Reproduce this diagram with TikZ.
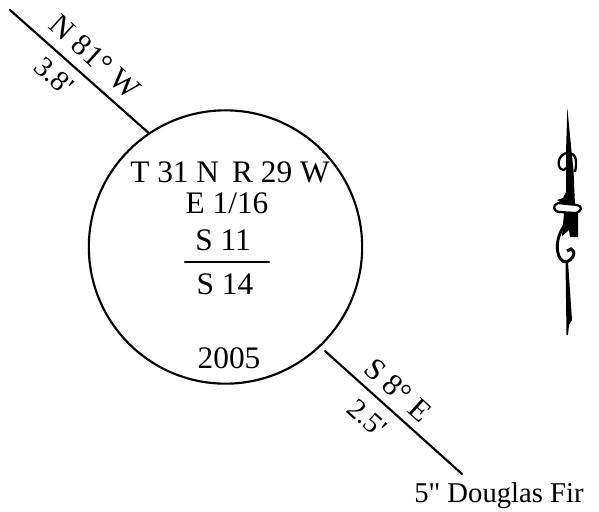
\documentclass[tikz,border=0pt]{standalone}
\usepackage{fontspec}
\setmainfont[Ligatures=TeXOff]{Liberation Serif}
\tikzset{
  lbl/.style={inner sep=0pt,anchor=base,font=\fontsize{23.5}{26}\selectfont},
  bearing/.style={inner sep=0pt,rotate=-42,font=\fontsize{23}{26}\selectfont},
  dist/.style={inner sep=0pt,rotate=-42,font=\fontsize{21.5}{24}\selectfont},
  ink/.style={line width=1.6pt,line cap=round},
  orn/.style={line width=1.7pt},
}
\begin{document}
\begin{tikzpicture}[x=0.75pt,y=-0.75pt]
  \useasboundingbox (0,0) rectangle (599,511);
  % corner tie
  \node[circle,draw,line width=1.6pt,minimum size=205pt,inner sep=0pt] (tie) at (225.5,247) {};
  \coordinate (nwend) at (10,10);
  \coordinate (sehead) at (325,351);
  \coordinate (seend) at (462,474);
  \draw[ink] (nwend) -- (tie.124);
  \draw[ink] (sehead) -- (seend);
  % text in the circle
  \node[lbl] (twp) at (230,182) {T 31 N\, R 29 W};
  \node[lbl] (qtr) at (227,213) {E 1/16};
  \node[lbl] (seca) at (223,250) {S 11};
  \node[lbl] (secb) at (225,294) {S 14};
  \node[lbl] (year) at (229,368) {2005};
  \coordinate (barl) at (185,262);
  \coordinate (barr) at (269,262);
  \draw[ink] (barl) -- (barr);
  % bearings along the lines
  \node[bearing] (nbear) at (95,57) {N 81° W};
  \node[dist] (ndist) at (54,76) {3.8'};
  \node[bearing] (sbear) at (398,390) {S 8° E};
  \node[dist] (sdist) at (367,418) {2.5'};
  \node[lbl,anchor=base west,font=\fontsize{21.5}{24}\selectfont] (fir) at (414,502) {5" Douglas Fir};
  % north mark
  \draw[orn,fill=white] (575,172) .. controls (577,162) and (577,153) .. (568,153)
     .. controls (559,153) and (556,165) .. (561,169) .. controls (563,171) and (565,170) .. (566,168);
  \fill (567.3,108) -- (571.7,153) -- (573.5,170) -- (575,205) -- (566,205) -- (566,170) -- (566,153) -- cycle;
  \fill (557,200) -- (563,198) -- (567,190) -- (567,206) -- cycle;
  \fill (564,213) -- (578,213) -- (578,237) -- (570,237) -- (569,230) -- (562,236) -- cycle;
  \fill (565.5,262) -- (568,262) -- (572,320) -- (569,325) -- (568,335) -- (566.5,335) -- cycle;
  \draw[orn,fill=white] (558,203) .. controls (552,205) and (553,212) .. (560,212)
     -- (575,213) .. controls (582,212) and (583,206) .. (577,205) -- cycle;
  \draw[line width=2.2pt] (564,226) .. controls (558,235) and (556,245) .. (558,253)
     .. controls (560,262) and (566,264) .. (570,260) .. controls (575,256) and (575,251) .. (571,249)
     -- (567,251);
\end{tikzpicture}
\end{document}
